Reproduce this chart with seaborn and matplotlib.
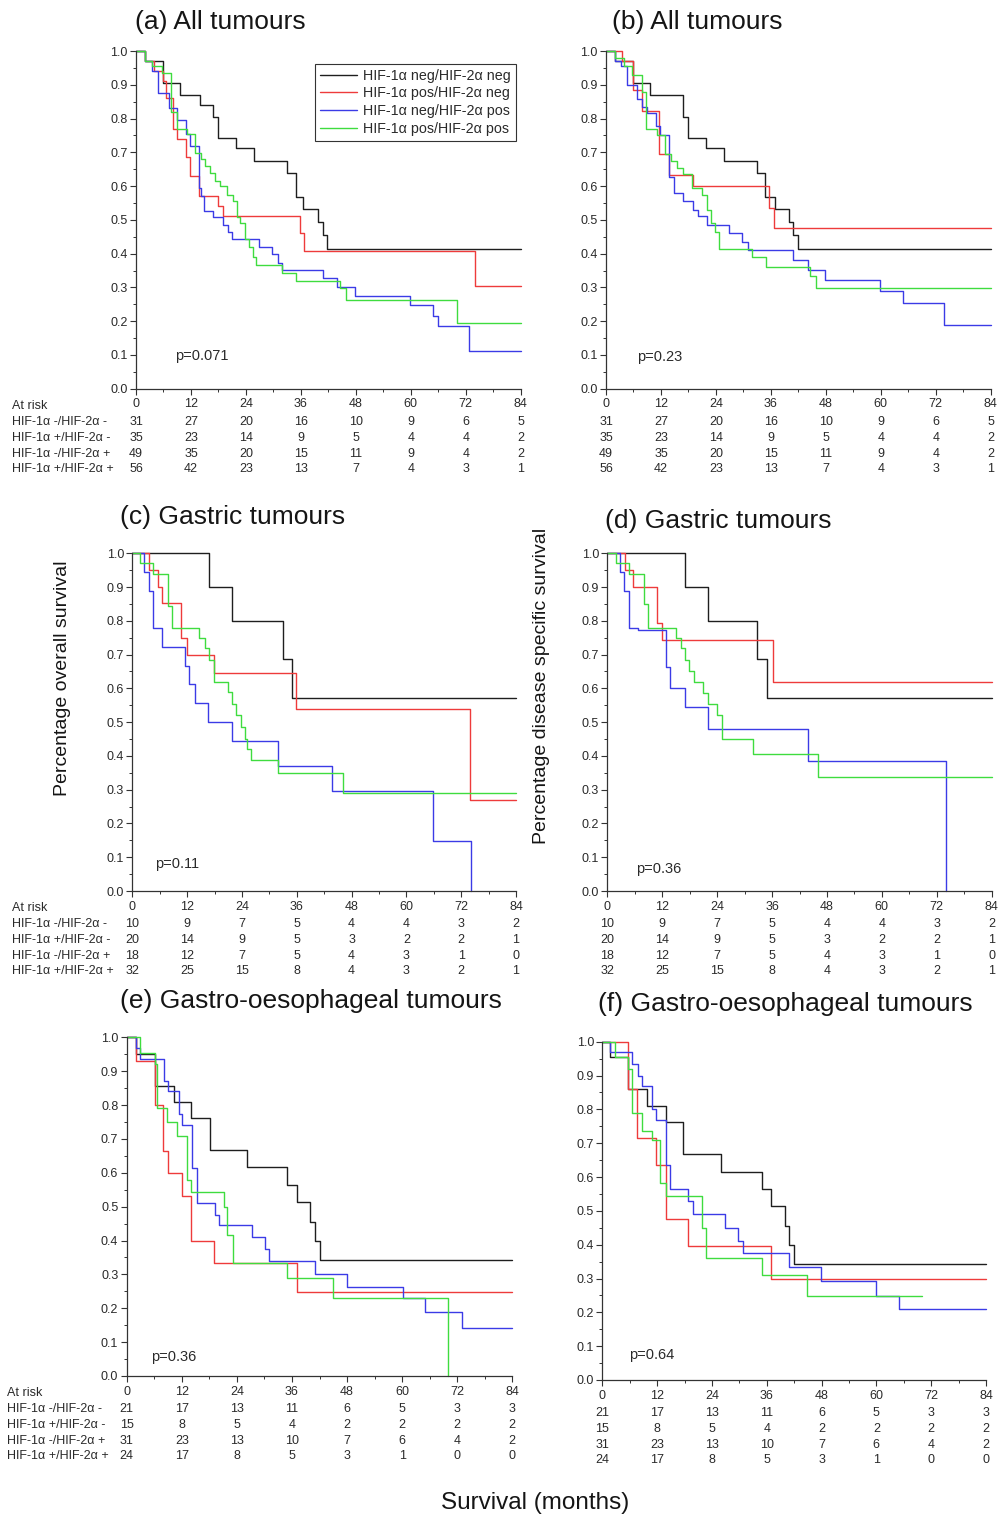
import matplotlib
matplotlib.use("Agg")
import matplotlib.pyplot as plt
import matplotlib.transforms as mtransforms
from matplotlib.ticker import MultipleLocator
import numpy as np
import pandas as pd
import seaborn as sns

# ---------------- data ----------------
GROUPS = ["HIF-1α neg/HIF-2α neg", "HIF-1α pos/HIF-2α neg",
          "HIF-1α neg/HIF-2α pos", "HIF-1α pos/HIF-2α pos"]
ROW_LABELS = ["HIF-1α -/HIF-2α -", "HIF-1α +/HIF-2α -",
              "HIF-1α -/HIF-2α +", "HIF-1α +/HIF-2α +"]
MONTH_TICKS = [0, 12, 24, 36, 48, 60, 72, 84]

# (a) All tumours - overall survival
A_black_t = [2, 5.8, 9.6, 14, 16.9, 17.8, 21.8, 25.8, 32.9, 34.9, 36.5, 39.8, 40.8, 41.8]
A_black_s = [0.97, 0.905, 0.87, 0.84, 0.806, 0.741, 0.712, 0.674, 0.638, 0.569, 0.531, 0.493, 0.455, 0.415]
A_red_t = [2, 4, 5.8, 6.5, 8, 9, 11, 11.7, 13.8, 17.8, 19, 35.8, 36.7, 74]
A_red_s = [0.97, 0.94, 0.91, 0.86, 0.77, 0.74, 0.685, 0.63, 0.57, 0.54, 0.512, 0.462, 0.409, 0.305]
A_blue_t = [2, 3.5, 4.9, 7.1, 9, 10.9, 11.8, 13.8, 14.1, 14.8, 16.9, 19, 20, 21, 26.9, 29.8,
            31.1, 31.8, 40.8, 43.8, 47.8, 59.8, 64.8, 66, 72.8]
A_blue_s = [0.97, 0.94, 0.877, 0.83, 0.795, 0.755, 0.72, 0.593, 0.57, 0.527, 0.507, 0.485, 0.465,
            0.442, 0.42, 0.398, 0.373, 0.351, 0.327, 0.30, 0.274, 0.248, 0.216, 0.186, 0.112]
A_green_t = [2, 3.6, 5.6, 7.6, 9, 11.2, 12.9, 14.1, 15.1, 16.2, 17.2, 18.3, 19.8, 21.1, 22, 22.7,
             23.8, 24.7, 25.5, 26.2, 31.8, 34.9, 44.5, 45.9, 70]
A_green_s = [0.97, 0.955, 0.934, 0.82, 0.768, 0.753, 0.697, 0.68, 0.66, 0.64, 0.615, 0.60, 0.575,
             0.555, 0.509, 0.49, 0.443, 0.42, 0.391, 0.365, 0.342, 0.32, 0.297, 0.263, 0.195]
A_end = [84, 84, 84, 84]

# (b) All tumours - disease specific survival
B_black_t = [2, 5.8, 9.6, 16.9, 17.8, 21.8, 25.8, 32.9, 34.7, 36.9, 40, 40.8, 42]
B_black_s = [0.97, 0.905, 0.87, 0.806, 0.741, 0.712, 0.674, 0.638, 0.569, 0.531, 0.493, 0.455, 0.415]
B_red_t = [3.6, 5.8, 7.8, 11.6, 13.8, 18.9, 35.7, 36.7]
B_red_s = [0.97, 0.884, 0.823, 0.695, 0.633, 0.60, 0.534, 0.477]
B_blue_t = [2, 3.3, 4.6, 6.7, 7.8, 8.9, 10.9, 11.8, 13.8, 14.8, 16.9, 19, 20, 22, 26.9, 29.8,
            31.1, 40.8, 44, 47.8, 59.8, 64.8, 73.8]
B_blue_s = [0.97, 0.955, 0.898, 0.857, 0.835, 0.815, 0.778, 0.75, 0.628, 0.58, 0.555, 0.53, 0.51,
            0.485, 0.462, 0.435, 0.41, 0.381, 0.351, 0.322, 0.29, 0.253, 0.19]
B_green_t = [2, 4, 5.6, 7.8, 8.7, 11.2, 12.9, 14.1, 15.4, 16.9, 18.7, 20.9, 22, 23, 23.8, 24.7,
             31.8, 34.9, 44.5, 45.9]
B_green_s = [0.98, 0.955, 0.93, 0.88, 0.768, 0.75, 0.695, 0.675, 0.655, 0.635, 0.595, 0.574,
             0.528, 0.49, 0.465, 0.413, 0.389, 0.361, 0.335, 0.297]
B_end = [84, 84, 84, 84]

# (c) Gastric tumours - overall survival
C_black_t = [16.9, 21.9, 32.9, 34.9]
C_black_s = [0.90, 0.80, 0.687, 0.572]
C_red_t = [3.7, 5.7, 6.6, 10.7, 11.9, 17.9, 35.8, 73.9]
C_red_s = [0.95, 0.90, 0.852, 0.75, 0.70, 0.647, 0.539, 0.27]
C_blue_t = [2.6, 3.7, 4.6, 6.6, 11.5, 12.5, 13.7, 16.6, 21.8, 31.8, 43.8, 65.8, 74.1]
C_blue_s = [0.945, 0.889, 0.78, 0.724, 0.666, 0.612, 0.556, 0.50, 0.444, 0.37, 0.297, 0.148, 0.0]
C_green_t = [1.7, 4.6, 7.9, 8.8, 14.7, 15.9, 16.9, 17.9, 20.9, 21.8, 22.8, 23.9, 24.7, 25.2,
             25.9, 31.8, 46.1]
C_green_s = [0.97, 0.94, 0.844, 0.78, 0.75, 0.72, 0.685, 0.62, 0.59, 0.555, 0.52, 0.485, 0.45,
             0.42, 0.388, 0.348, 0.289]
C_end = [84, 84, 74.1, 84]

# (d) Gastric tumours - disease specific survival
D_black_t = [17, 21.9, 32.8, 35]
D_black_s = [0.90, 0.80, 0.687, 0.572]
D_red_t = [3.9, 5.7, 10.9, 11.9, 36.3]
D_red_s = [0.95, 0.90, 0.795, 0.743, 0.62]
D_blue_t = [2.8, 3.7, 4.8, 6.8, 12.8, 13.8, 17, 21.9, 43.9, 74]
D_blue_s = [0.945, 0.889, 0.78, 0.773, 0.662, 0.602, 0.544, 0.48, 0.385, 0.0]
D_green_t = [1.9, 4.8, 8, 9, 15, 16, 17, 17.9, 18.9, 21, 21.9, 23.9, 25, 31.9, 46.1]
D_green_s = [0.97, 0.94, 0.85, 0.78, 0.75, 0.72, 0.685, 0.65, 0.62, 0.585, 0.555, 0.52, 0.45,
             0.405, 0.337]
D_end = [84, 84, 74, 84]

# (e) Gastro-oesophageal tumours - overall survival
E_black_t = [2, 6.2, 10.2, 13.9, 18.2, 26.1, 35, 37, 39.9, 41, 42.1]
E_black_s = [0.951, 0.856, 0.81, 0.761, 0.667, 0.616, 0.564, 0.515, 0.454, 0.399, 0.343]
E_red_t = [2, 6.2, 8, 9.1, 12, 13.9, 19.1, 37]
E_red_s = [0.93, 0.80, 0.665, 0.598, 0.532, 0.40, 0.333, 0.249]
E_blue_t = [2, 3, 8.1, 9.1, 11.3, 12, 14.2, 15.3, 19.2, 20.2, 27.2, 30.1, 31.1, 41, 47.9, 60.1,
            65, 73]
E_blue_s = [0.968, 0.935, 0.87, 0.84, 0.775, 0.74, 0.615, 0.51, 0.475, 0.445, 0.41, 0.375, 0.34,
            0.301, 0.264, 0.229, 0.188, 0.141]
E_green_t = [3, 6.2, 6.7, 8.7, 11, 13.2, 13.9, 21.2, 21.9, 23.1, 35, 45, 69.9]
E_green_s = [0.955, 0.92, 0.79, 0.75, 0.71, 0.58, 0.542, 0.50, 0.416, 0.335, 0.288, 0.23, 0.0]
E_end = [84, 84, 84, 69.9]

# (f) Gastro-oesophageal tumours - disease specific survival
F_black_t = [1.7, 5.7, 9.7, 13.9, 17.7, 25.9, 35, 36.9, 40, 40.9, 42]
F_black_s = [0.954, 0.859, 0.81, 0.764, 0.667, 0.616, 0.564, 0.514, 0.455, 0.399, 0.342]
F_red_t = [5.7, 7.7, 11.8, 13.9, 18.8, 36.9]
F_red_s = [0.859, 0.714, 0.635, 0.476, 0.396, 0.298]
F_blue_t = [1.7, 6.6, 7.9, 8.8, 10.8, 11.8, 13.9, 14.8, 18.8, 19.8, 26.9, 29.8, 30.9, 40.9,
            47.8, 59.9, 65]
F_blue_s = [0.97, 0.935, 0.90, 0.87, 0.80, 0.77, 0.635, 0.564, 0.53, 0.49, 0.45, 0.41, 0.375,
            0.335, 0.294, 0.249, 0.209]
F_green_t = [2.8, 5.7, 6.6, 8.6, 10.8, 12.6, 13.9, 21.8, 22.8, 34.9, 44.9]
F_green_s = [0.955, 0.92, 0.79, 0.735, 0.71, 0.583, 0.545, 0.45, 0.36, 0.31, 0.249]
F_end = [84, 84, 84, 69.9]

# numbers at risk
RISK_ALL = [[31, 27, 20, 16, 10, 9, 6, 5],
            [35, 23, 14, 9, 5, 4, 4, 2],
            [49, 35, 20, 15, 11, 9, 4, 2],
            [56, 42, 23, 13, 7, 4, 3, 1]]
RISK_GASTRIC = [[10, 9, 7, 5, 4, 4, 3, 2],
                [20, 14, 9, 5, 3, 2, 2, 1],
                [18, 12, 7, 5, 4, 3, 1, 0],
                [32, 25, 15, 8, 4, 3, 2, 1]]
RISK_GO = [[21, 17, 13, 11, 6, 5, 3, 3],
           [15, 8, 5, 4, 2, 2, 2, 2],
           [31, 23, 13, 10, 7, 6, 4, 2],
           [24, 17, 8, 5, 3, 1, 0, 0]]

P_VALUES = ["p=0.071", "p=0.23", "p=0.11", "p=0.36", "p=0.36", "p=0.64"]
TITLES = ["(a) All tumours", "(b) All tumours", "(c) Gastric tumours", "(d) Gastric tumours",
          "(e) Gastro-oesophageal tumours", "(f) Gastro-oesophageal tumours"]

# ---------------- style ----------------
COLORS = ["#1e1e1e", "#ee3b3b", "#3b3be6", "#3fdc3f"]
TXT = "#2a2a2a"
sns.set_style("ticks")
plt.rcParams["font.family"] = ["Liberation Sans", "DejaVu Sans"]
plt.rcParams["axes.edgecolor"] = "#333333"
plt.rcParams["axes.linewidth"] = 0.9

W, H = 1002, 1517
fig = plt.figure(figsize=(W / 100, H / 100), dpi=100)


def km_frame(ts, ss, ends):
    rows = []
    for g, t, s, e in zip(GROUPS, ts, ss, ends):
        xs = [0.0] + list(t)
        ys = [1.0] + list(s)
        if e > t[-1]:
            xs.append(e)
            ys.append(s[-1])
        rows += [{"month": x, "survival": y, "group": g} for x, y in zip(xs, ys)]
    return pd.DataFrame(rows)


panels = [
    dict(ts=[A_black_t, A_red_t, A_blue_t, A_green_t], ss=[A_black_s, A_red_s, A_blue_s, A_green_s],
         ends=A_end, box=(136, 520.7, 51, 388.7), title_xy=(135, 22), p_xy=(8.5, 0.098),
         risk=RISK_ALL, rowlab_x=12, legend=True),
    dict(ts=[B_black_t, B_red_t, B_blue_t, B_green_t], ss=[B_black_s, B_red_s, B_blue_s, B_green_s],
         ends=B_end, box=(606, 990.7, 51, 388.7), title_xy=(612, 22), p_xy=(6.8, 0.093),
         risk=RISK_ALL, rowlab_x=None, legend=False),
    dict(ts=[C_black_t, C_red_t, C_blue_t, C_green_t], ss=[C_black_s, C_red_s, C_blue_s, C_green_s],
         ends=C_end, box=(132.3, 516, 553.3, 891), title_xy=(120, 517), p_xy=(5.0, 0.08),
         risk=RISK_GASTRIC, rowlab_x=12, legend=False),
    dict(ts=[D_black_t, D_red_t, D_blue_t, D_green_t], ss=[D_black_s, D_red_s, D_blue_s, D_green_s],
         ends=D_end, box=(607.3, 991.7, 553.3, 891), title_xy=(605, 521), p_xy=(6.3, 0.066),
         risk=RISK_GASTRIC, rowlab_x=None, legend=False),
    dict(ts=[E_black_t, E_red_t, E_blue_t, E_green_t], ss=[E_black_s, E_red_s, E_blue_s, E_green_s],
         ends=E_end, box=(126.7, 512.3, 1037.3, 1376), title_xy=(120, 1001), p_xy=(5.2, 0.056),
         risk=RISK_GO, rowlab_x=7, legend=False),
    dict(ts=[F_black_t, F_red_t, F_blue_t, F_green_t], ss=[F_black_s, F_red_s, F_blue_s, F_green_s],
         ends=F_end, box=(602.3, 986, 1041.7, 1380), title_xy=(598, 1004), p_xy=(5.9, 0.074),
         risk=RISK_GO, rowlab_x=None, legend=False),
]

ROW_OFFSETS = [33, 49, 65, 80]   # px below the x axis
HEADER_OFFSET = 17
SMALL = 9

for i, p in enumerate(panels):
    x0, x1, yt, yb = p["box"]
    ax = fig.add_axes([x0 / W, 1 - yb / H, (x1 - x0) / W, (yb - yt) / H])
    df = km_frame(p["ts"], p["ss"], p["ends"])
    sns.lineplot(data=df, x="month", y="survival", hue="group", hue_order=GROUPS,
                 palette=COLORS, estimator=None, sort=True, drawstyle="steps-post",
                 linewidth=1.0, legend=p["legend"], ax=ax, clip_on=False)
    ax.set_xlim(0, 84)
    ax.set_ylim(0, 1.0)
    ax.set_xlabel("")
    ax.set_ylabel("")
    sns.despine(ax=ax)
    ax.set_xticks(MONTH_TICKS)
    ax.set_xticklabels([str(m) for m in MONTH_TICKS])
    ax.xaxis.set_minor_locator(MultipleLocator(6))
    ax.set_yticks(np.round(np.arange(0, 1.01, 0.1), 1))
    ax.set_yticklabels([f"{v:.1f}" for v in np.arange(0, 1.01, 0.1)])
    ax.yaxis.set_minor_locator(MultipleLocator(0.05))
    ax.tick_params(which="major", length=4, width=0.8, labelsize=SMALL, colors="#333333",
                   labelcolor=TXT, direction="out")
    ax.tick_params(which="minor", length=2.2, width=0.7, colors="#333333", direction="out")
    ax.tick_params(axis="x", which="major", pad=3.0)
    ax.tick_params(axis="y", which="major", pad=2)
    ax.patch.set_alpha(0)

    ax.text(p["p_xy"][0], p["p_xy"][1], P_VALUES[i], fontsize=10.5, color=TXT,
            ha="left", va="center")

    # title
    fig.text(p["title_xy"][0] / W, 1 - p["title_xy"][1] / H, TITLES[i], fontsize=19,
             color="#151515", ha="left", va="center")

    # numbers at risk
    axh = yb - yt
    for r, counts in enumerate(p["risk"]):
        yfrac = -ROW_OFFSETS[r] / axh
        for m, c in zip(MONTH_TICKS, counts):
            ax.text(m, yfrac, str(c), transform=ax.get_xaxis_transform(), fontsize=SMALL,
                    color=TXT, ha="center", va="center", clip_on=False)
        if p["rowlab_x"] is not None:
            tr = mtransforms.blended_transform_factory(fig.transFigure, ax.transAxes)
            ax.text(p["rowlab_x"] / W, yfrac, ROW_LABELS[r], transform=tr, fontsize=SMALL,
                    color=TXT, ha="left", va="center", clip_on=False)
    if p["rowlab_x"] is not None:
        tr = mtransforms.blended_transform_factory(fig.transFigure, ax.transAxes)
        ax.text(p["rowlab_x"] / W, -HEADER_OFFSET / axh, "At risk", transform=tr,
                fontsize=SMALL, color=TXT, ha="left", va="center", clip_on=False)

    if p["legend"]:
        handles, labels = ax.get_legend_handles_labels()
        leg = ax.legend(handles, labels, loc="upper right", bbox_to_anchor=(0.987, 0.962),
                        fontsize=10.3, frameon=True, fancybox=False, edgecolor="#333333",
                        framealpha=1, handlelength=2.6, handletextpad=0.4,
                        labelspacing=0.25, borderpad=0.35, borderaxespad=0)
        leg.get_frame().set_linewidth(0.8)
        for t in leg.get_texts():
            t.set_color(TXT)

fig.text(63 / W, 1 - 678 / H, "Percentage overall survival", rotation=90, fontsize=14,
         color="#151515", ha="center", va="center")
fig.text(541 / W, 1 - 686 / H, "Percentage disease specific survival", rotation=90,
         fontsize=14, color="#151515", ha="center", va="center")
fig.text(535 / W, 1 - 1503 / H, "Survival (months)", fontsize=17.5, color="#151515",
         ha="center", va="center")

fig.savefig("out.png", dpi=100, facecolor="white")
